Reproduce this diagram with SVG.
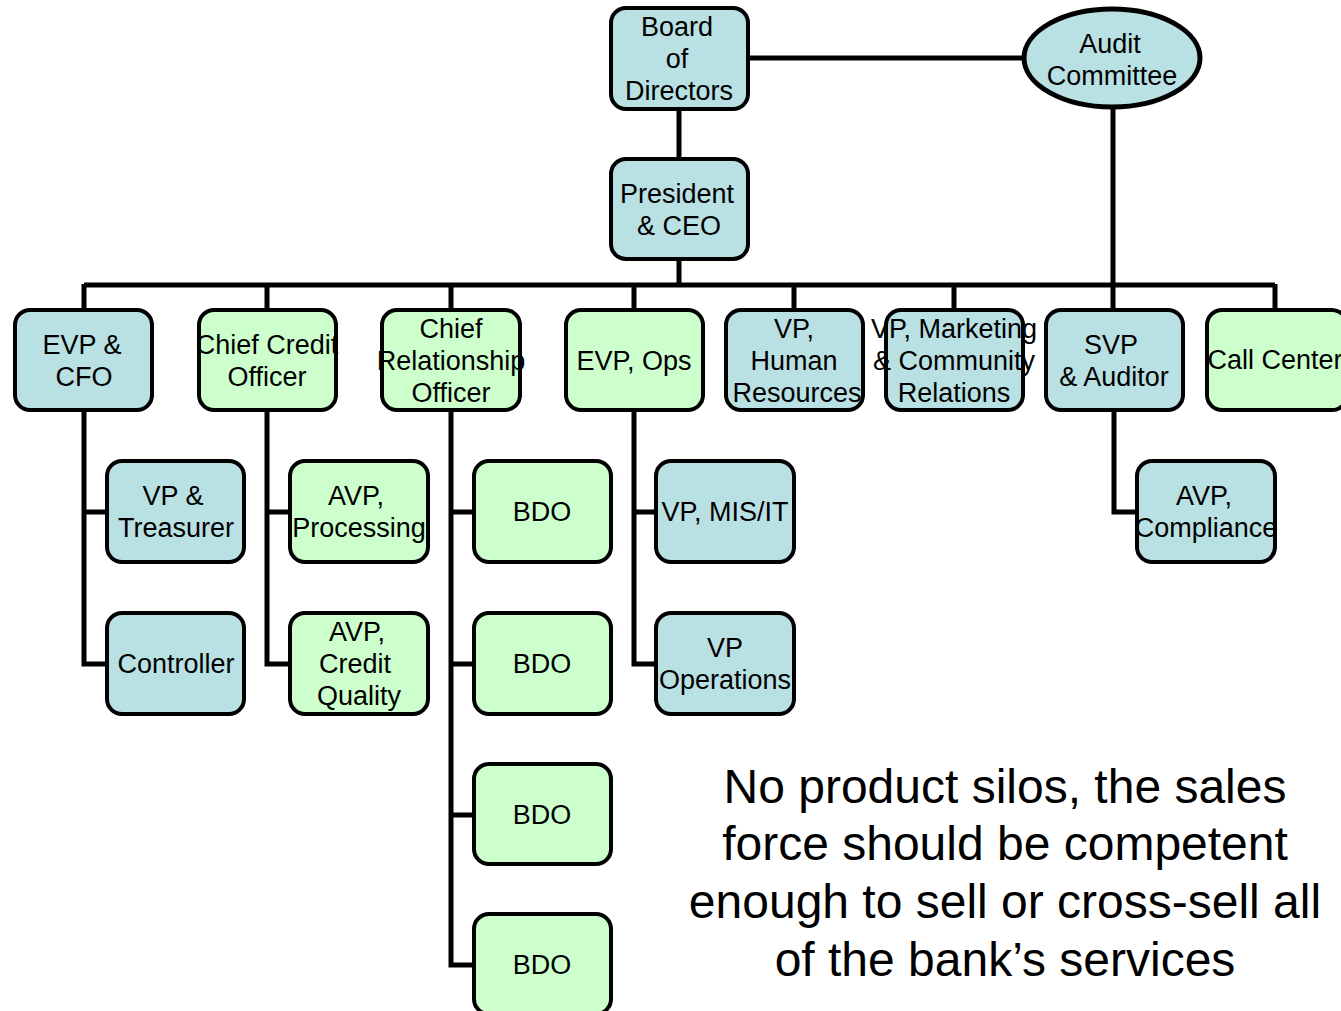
<svg xmlns="http://www.w3.org/2000/svg" width="1341" height="1011" viewBox="0 0 1341 1011">
<style>
.b{fill:#B9E0E3;stroke:#000;stroke-width:4}
.g{fill:#CCFFCC;stroke:#000;stroke-width:4}
.t{font-family:"Liberation Sans",Arial,sans-serif;font-size:27px;fill:#000;text-anchor:middle}
.big{font-family:"Liberation Sans",Arial,sans-serif;font-size:48px;fill:#000;text-anchor:middle}
.c{fill:none;stroke:#000;stroke-width:5}
</style>
<rect width="1341" height="1011" fill="#fff"/>
<g id="connectors">
<path class="c" d="M748 58H1024M679 109V159M679 259V285M84 285H1275M84 284V310M267 284V310M451 284V310M634 284V310M794 284V310M954 284V310M1275 284V310M1113 108V310"/>
<path class="c" d="M84 410V664H107M84 512H107"/>
<path class="c" d="M267 410V664H290M267 512H290"/>
<path class="c" d="M451 410V965H474M451 512H474M451 664H474M451 815H474"/>
<path class="c" d="M634 410V664H656M634 512H656"/>
<path class="c" d="M1114 410V512H1137"/>
</g>
<g id="board"><rect class="b" x="611" y="8" width="137" height="101" rx="15"/><text class="t" x="677" y="36">Board</text><text class="t" x="677" y="68">of</text><text class="t" x="679" y="100">Directors</text></g>
<g id="audit"><ellipse cx="1112" cy="58" rx="88" ry="49" fill="#B9E0E3" stroke="#000" stroke-width="5"/><text class="t" x="1110" y="53">Audit</text><text class="t" x="1112" y="85">Committee</text></g>
<g id="president"><rect class="b" x="611" y="159" width="137" height="100" rx="15"/><text class="t" x="677" y="203">President</text><text class="t" x="679" y="235">&amp; CEO</text></g>
<g id="cfo"><rect class="b" x="15" y="310" width="137" height="100" rx="15"/><text class="t" x="82" y="354">EVP &amp;</text><text class="t" x="84" y="386">CFO</text></g>
<g id="cco"><rect class="g" x="199" y="310" width="137" height="100" rx="15"/><text class="t" x="267" y="354">Chief Credit</text><text class="t" x="267" y="386">Officer</text></g>
<g id="cro"><rect class="g" x="382" y="310" width="138" height="100" rx="15"/><text class="t" x="451" y="338">Chief</text><text class="t" x="451" y="370">Relationship</text><text class="t" x="451" y="402">Officer</text></g>
<g id="evpops"><rect class="g" x="566" y="310" width="137" height="100" rx="15"/><text class="t" x="634" y="370">EVP, Ops</text></g>
<g id="hr"><rect class="b" x="726" y="310" width="137" height="100" rx="15"/><text class="t" x="794" y="338">VP,</text><text class="t" x="794" y="370">Human</text><text class="t" x="797" y="402">Resources</text></g>
<g id="mkt"><rect class="b" x="886" y="310" width="137" height="100" rx="15"/><text class="t" x="954" y="338">VP, Marketing</text><text class="t" x="954" y="370">&amp; Community</text><text class="t" x="954" y="402">Relations</text></g>
<g id="svp"><rect class="b" x="1046" y="310" width="137" height="100" rx="15"/><text class="t" x="1111" y="354">SVP</text><text class="t" x="1114" y="386">&amp; Auditor</text></g>
<g id="call"><rect class="g" x="1207" y="310" width="140" height="100" rx="15"/><text class="t" x="1275" y="369">Call Center</text></g>
<g id="treasurer"><rect class="b" x="107" y="461" width="137" height="101" rx="15"/><text class="t" x="173" y="505">VP &amp;</text><text class="t" x="176" y="537">Treasurer</text></g>
<g id="processing"><rect class="g" x="290" y="461" width="138" height="101" rx="15"/><text class="t" x="356" y="505">AVP,</text><text class="t" x="359" y="537">Processing</text></g>
<g id="bdo1"><rect class="g" x="474" y="461" width="137" height="101" rx="15"/><text class="t" x="542" y="521">BDO</text></g>
<g id="mis"><rect class="b" x="656" y="461" width="138" height="101" rx="15"/><text class="t" x="725" y="521">VP, MIS/IT</text></g>
<g id="compliance"><rect class="b" x="1137" y="461" width="138" height="101" rx="15"/><text class="t" x="1204" y="505">AVP,</text><text class="t" x="1206" y="537">Compliance</text></g>
<g id="controller"><rect class="b" x="107" y="613" width="137" height="101" rx="15"/><text class="t" x="176" y="673">Controller</text></g>
<g id="creditq"><rect class="g" x="290" y="613" width="138" height="101" rx="15"/><text class="t" x="357" y="641">AVP,</text><text class="t" x="355" y="673">Credit</text><text class="t" x="359" y="705">Quality</text></g>
<g id="bdo2"><rect class="g" x="474" y="613" width="137" height="101" rx="15"/><text class="t" x="542" y="673">BDO</text></g>
<g id="vpops"><rect class="b" x="656" y="613" width="138" height="101" rx="15"/><text class="t" x="725" y="657">VP</text><text class="t" x="725" y="689">Operations</text></g>
<g id="bdo3"><rect class="g" x="474" y="764" width="137" height="100" rx="15"/><text class="t" x="542" y="824">BDO</text></g>
<g id="bdo4"><rect class="g" x="474" y="914" width="137" height="100" rx="15"/><text class="t" x="542" y="974">BDO</text></g>
<g id="note">
<text class="big" x="1005" y="803">No product silos, the sales</text>
<text class="big" x="1005" y="860">force should be competent</text>
<text class="big" x="1005" y="918">enough to sell or cross-sell all</text>
<text class="big" x="1005" y="976">of the bank’s services</text>
</g>
</svg>
